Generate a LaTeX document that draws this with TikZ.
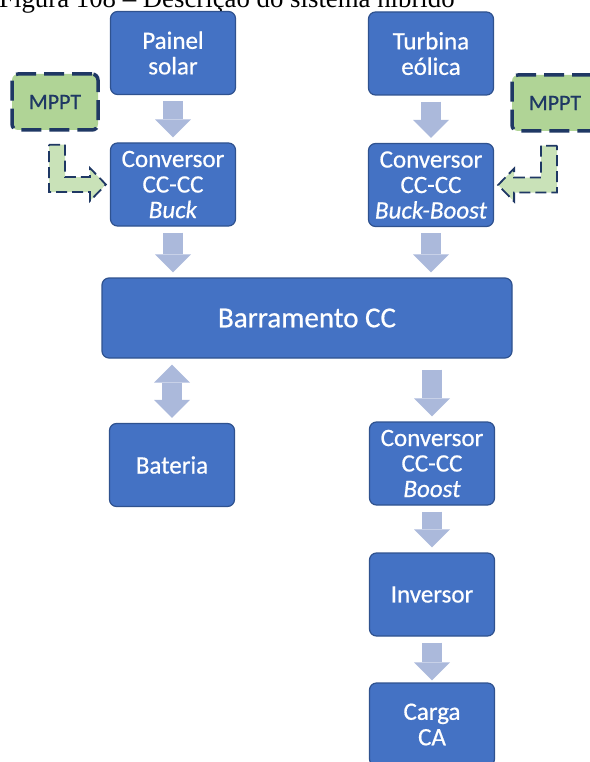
\documentclass[tikz,border=0pt]{standalone}
\usepackage{fontspec}
\setmainfont{Liberation Serif}
\newfontfamily\boxfont[FakeBold=0.6, ItalicFeatures={FakeBold=0.6}]{Carlito}
\usetikzlibrary{arrows.meta, calc}
\definecolor{boxblue}{HTML}{4472C4}
\definecolor{boxedge}{HTML}{2F528F}
\definecolor{flowfill}{HTML}{ABB9DB}
\definecolor{mpptfill}{HTML}{B0D496}
\definecolor{mpptedge}{HTML}{1F3864}
\definecolor{bentfill}{HTML}{C9E2B8}
\tikzset{
  block/.style={draw=boxedge, fill=boxblue, line width=1.2pt, rounded corners=7pt,
    minimum width=125pt, minimum height=83pt, inner sep=0pt, align=center,
    text=white, font=\boxfont\fontsize{25}{25.5}\selectfont},
  mppt/.style={draw=mpptedge, fill=mpptfill, line width=3.5pt, dash pattern=on 20pt off 8pt,
    rounded corners=6pt, minimum width=86pt, minimum height=56pt, inner sep=0pt,
    text=mpptedge, font=\boxfont\fontsize{22}{24}\selectfont},
  % wide light arrows between the blocks
  flow/.style={draw=flowfill, line width=20pt,
    -{Triangle[width=36pt, length=18pt, line width=0pt]}, shorten <=6pt, shorten >=5pt},
  flowboth/.style={flow, {Triangle[width=36pt, length=18pt, line width=0pt]}-{Triangle[width=36pt, length=18pt, line width=0pt]}},
  bent/.style={draw=mpptedge, fill=bentfill, line width=1.8pt, dash pattern=on 11pt off 5pt},
}

\begin{document}
\begin{tikzpicture}[x=1pt, y=-1pt]
  \useasboundingbox (0,0) rectangle (589,762);
  % bent arrow from an MPPT block to the side of a converter:
  % \bentarrow{mppt}{converter}{anchor}{direction}{stem shift}
  \newcommand\bentarrow[5]{%
    \coordinate (top) at ($(#1.south)+(#5,13)$);
    \coordinate (tip) at ($(#2.#3)+(-4*#4,0)$);
    \coordinate (knee) at (top |- tip);
    \draw[bent] ($(top)+(-8*#4,0)$) -- ($(top)+(8*#4,0)$) -- ($(knee)+(8*#4,-7.5)$)
      -- ($(tip)+(-16*#4,-7.5)$) -- ($(tip)+(-16*#4,-16.5)$) -- (tip)
      -- ($(tip)+(-16*#4,16.5)$) -- ($(tip)+(-16*#4,7.5)$) -- ($(knee)+(-8*#4,7.5)$) -- cycle;
  }
  \node[anchor=base west, inner sep=0pt, font=\fontsize{26.8}{28}\selectfont] (caption) at (-1,7.5)
    {Figura 108 -- Descrição do sistema híbrido};

  % sources and their converters
  \node[block] (pv) at (173,53) {Painel\\solar};
  \node[block] (wind) at (431,53.5) {Turbina\\eólica};
  \node[block] (buck) at (173,184.5) {Conversor\\CC-CC\\\textit{Buck}};
  \node[block] (bb) at (431,185) {Conversor\\CC-CC\\\textit{Buck-Boost}};
  \node[mppt] (mpptL) at (55,102) {MPPT};
  \node[mppt] (mpptR) at (555,103) {MPPT};

  % DC bus and what hangs below it
  \node[block, minimum width=410pt, minimum height=80pt, font=\boxfont\fontsize{29}{30}\selectfont]
    (bus) at (307,318) {Barramento CC};
  \node[block] (bat) at (172,465) {Bateria};
  \node[block] (boost) at (432,463.5) {Conversor\\CC-CC\\\textit{Boost}};
  \node[block] (inv) at (432,594.5) {Inversor};
  \node[block] (load) at (432,724.5) {Carga\\CA};

  \draw[flow] (pv) -- (buck);
  \draw[flow] (wind) -- (bb);
  \draw[flow] (buck) -- (buck |- bus.north);
  \draw[flow] (bb) -- (bb |- bus.north);
  \draw[flowboth] (bus.south -| bat) -- (bat);
  \draw[flow, shorten <=11pt] (bus.south -| boost) -- (boost);
  \draw[flow] (boost) -- (inv);
  \draw[flow, shorten >=2pt] (inv) -- (load);

  \bentarrow{mpptL}{buck}{west}{1}{2}
  \bentarrow{mpptR}{bb}{east}{-1}{-6}
\end{tikzpicture}
\end{document}
